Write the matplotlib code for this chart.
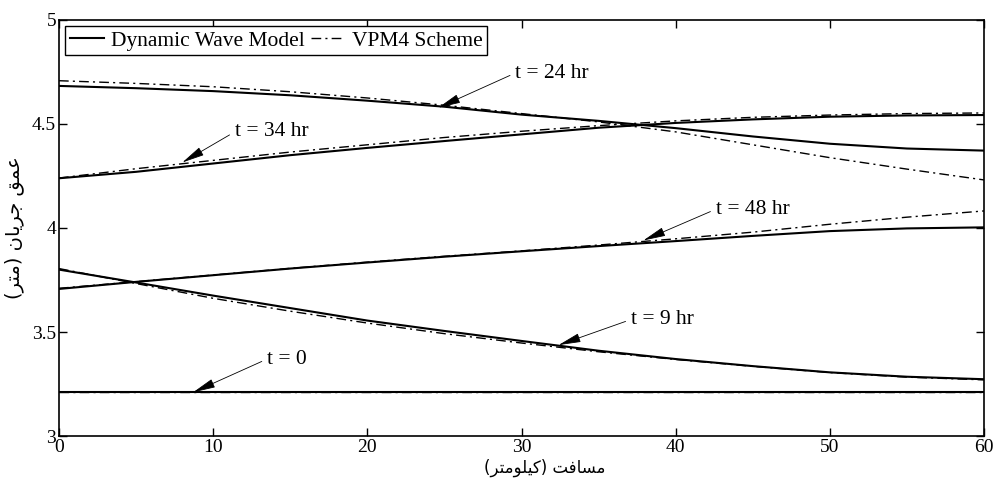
import matplotlib
matplotlib.use("Agg")
import matplotlib.pyplot as plt
from matplotlib.lines import Line2D

# distance along channel (km)
x = [0, 5, 10, 15, 20, 25, 30, 35, 40, 45, 50, 55, 60]

# flow depth (m) - dynamic wave model (solid) and VPM4 scheme (dash-dot)
dw_t0 = [3.21] * 13
vp_t0 = [3.21] * 13
dw_t9 = [3.800, 3.738, 3.675, 3.615, 3.555, 3.505, 3.457, 3.410, 3.370, 3.336, 3.306, 3.285, 3.273]
vp_t9 = [3.805, 3.733, 3.662, 3.600, 3.543, 3.492, 3.447, 3.405, 3.368, 3.335, 3.305, 3.283, 3.270]
dw_t24 = [4.683, 4.672, 4.658, 4.638, 4.612, 4.583, 4.545, 4.515, 4.480, 4.440, 4.405, 4.382, 4.372]
vp_t24 = [4.708, 4.695, 4.679, 4.655, 4.625, 4.590, 4.550, 4.510, 4.462, 4.400, 4.338, 4.283, 4.231]
dw_t34 = [4.239, 4.270, 4.310, 4.350, 4.385, 4.418, 4.450, 4.482, 4.505, 4.522, 4.535, 4.541, 4.543]
vp_t34 = [4.240, 4.285, 4.325, 4.365, 4.400, 4.435, 4.465, 4.492, 4.515, 4.532, 4.543, 4.550, 4.553]
dw_t48 = [3.707, 3.741, 3.773, 3.805, 3.834, 3.862, 3.888, 3.913, 3.937, 3.962, 3.985, 3.998, 4.003]
vp_t48 = [3.710, 3.742, 3.774, 3.806, 3.836, 3.864, 3.890, 3.918, 3.948, 3.980, 4.018, 4.052, 4.082]

# annotation labels, arrow tips and text positions
labels = ["t = 24 hr", "t = 34 hr", "t = 48 hr", "t = 9 hr", "t = 0"]
tips = [(24.6, 4.578), (8.0, 4.315), (37.9, 3.940), (32.4, 3.437), (8.7, 3.21)]
texts = [(29.6, 4.745), (11.4, 4.462), (42.6, 4.09), (37.1, 3.56), (13.5, 3.37)]

serif = "Liberation Serif"
dashdot = (0, (7, 3, 1.5, 3))

fig = plt.figure(figsize=(9.96, 4.87), dpi=100)
ax = fig.add_axes([0.0592, 0.1047, 0.9288, 0.8543])

for dw, vp in [(dw_t0, vp_t0), (dw_t9, vp_t9), (dw_t24, vp_t24),
               (dw_t34, vp_t34), (dw_t48, vp_t48)]:
    ax.plot(x, vp, color="k", lw=1.0, linestyle=dashdot)
    ax.plot(x, dw, color="k", lw=1.5)

for lab, tip, txt in zip(labels, tips, texts):
    ax.annotate(lab, xy=tip, xytext=txt, fontsize=15.5, family=serif,
                ha="left", va="center",
                arrowprops=dict(arrowstyle="-|>,head_length=0.9,head_width=0.18",
                                color="k", lw=0.6, shrinkA=2, shrinkB=0,
                                relpos=(0, 0.5)))

ax.set_xlim(0, 60)
ax.set_ylim(3, 5)
ax.set_xticks([0, 10, 20, 30, 40, 50, 60])
ax.set_yticks([3, 3.5, 4, 4.5, 5])
ax.set_yticklabels(["3", "3.5", "4", "4.5", "5"])
ax.tick_params(direction="in", top=True, right=True, length=6, width=1,
               labelsize=14, pad=2)
for t in ax.get_xticklabels() + ax.get_yticklabels():
    t.set_family(serif)
for s in ax.spines.values():
    s.set_linewidth(1.2)

# Persian labels written in visual order with presentation forms
xlabel = "(\uFEAE\uFE98\uFEE3\uFEEE\uFEE0\uFBFF\uFB90) \uFE96\uFED3\uFE8E\uFEB4\uFEE3"
ylabel = "(\uFEAE\uFE98\uFEE3) \uFEE5\uFE8E\uFBFE\uFEAE\uFE9F \uFED6\uFEE4\uFECB"
ax.set_xlabel(xlabel, fontsize=12, family="DejaVu Sans", labelpad=1)
ax.set_ylabel(ylabel, fontsize=14, family="DejaVu Sans", labelpad=6)
ax.xaxis.set_label_coords(0.525, -0.055, transform=ax.transAxes)
ax.xaxis.label.set_va("top")

handles = [Line2D([], [], color="k", lw=1.5),
           Line2D([], [], color="k", lw=1.0, linestyle=dashdot)]
leg = ax.legend(handles, ["Dynamic Wave Model", "VPM4 Scheme"], ncol=2,
                loc="upper left", bbox_to_anchor=(0, 1), borderaxespad=0.3,
                prop={"family": serif, "size": 15.5}, frameon=True,
                fancybox=False, edgecolor="k", framealpha=1,
                handlelength=1.6, handletextpad=0.3, columnspacing=0.3,
                borderpad=0.2)
leg.get_frame().set_linewidth(1.0)

fig.savefig("out.png", dpi=100)
